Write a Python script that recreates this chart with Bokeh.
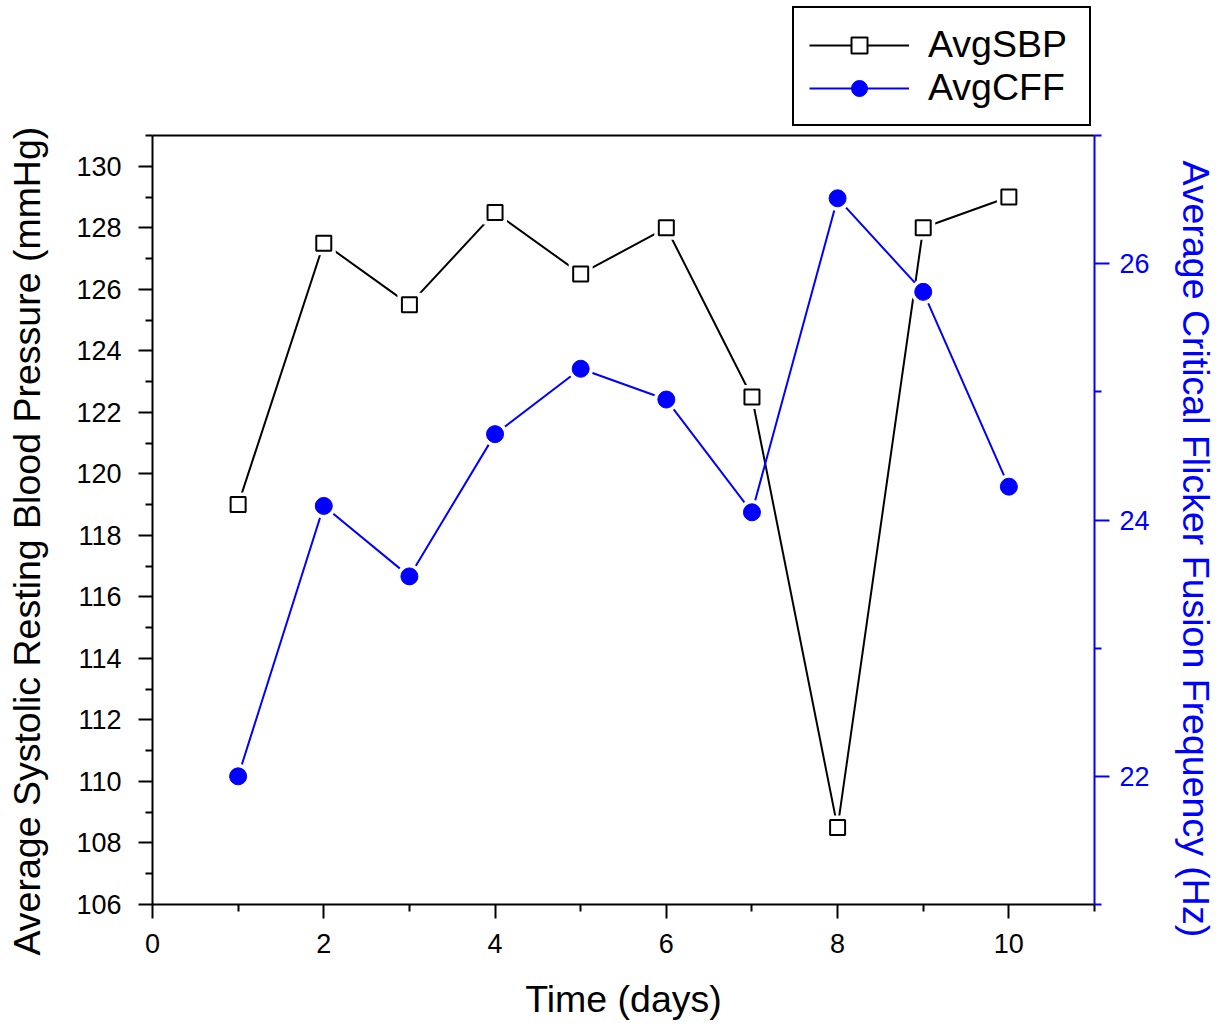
from bokeh.plotting import figure
from bokeh.models import (Range1d, LinearAxis, FixedTicker, Legend, LegendItem, Title)
from bokeh.layouts import column
from bokeh.embed import file_html
from bokeh.resources import INLINE

days = [1, 2, 3, 4, 5, 6, 7, 8, 9, 10]
avg_sbp = [119, 127.5, 125.5, 128.5, 126.5, 128, 122.5, 108.5, 128, 129]
avg_cff = [22.0, 24.11, 23.56, 24.67, 25.18, 24.94, 24.06, 26.51, 25.78, 24.26]

x_major = list(range(0, 11, 2))
x_minor = list(range(1, 12, 2))
yl_major = list(range(106, 131, 2))
yl_minor = list(range(107, 132, 2))
yr_major = [22, 24, 26]
yr_minor = [21, 23, 25, 27]

FONT = "Liberation Sans"
BLUE = "#0000FF"
W = 1226
TOP_H = 127
MAIN_H = 901

# ---------------- main plot ----------------
p = figure(width=W, height=MAIN_H, output_backend="svg", toolbar_location=None,
           x_range=Range1d(0, 11), y_range=Range1d(106, 131),
           min_border_left=152, min_border_right=132, min_border_top=8,
           min_border_bottom=124)
p.extra_y_ranges = {"cff": Range1d(21, 27)}
p.grid.visible = False
p.outline_line_color = None
p.background_fill_color = "white"

def style_axis(ax, color="black"):
    ax.axis_line_color = color
    ax.axis_line_width = 2
    ax.major_tick_line_color = color
    ax.minor_tick_line_color = color
    ax.major_tick_line_width = 2
    ax.minor_tick_line_width = 2
    ax.major_tick_in = 0
    ax.minor_tick_in = 0
    ax.major_tick_out = 14
    ax.minor_tick_out = 7
    ax.major_label_text_font = FONT
    ax.major_label_text_font_size = "27px"
    ax.major_label_text_color = color
    ax.axis_label_text_font = FONT
    ax.axis_label_text_font_size = "37.5px"
    ax.axis_label_text_font_style = "normal"
    ax.axis_label_text_color = color

xa = p.xaxis[0]
style_axis(xa)
xa.ticker = FixedTicker(ticks=x_major, minor_ticks=x_minor)
xa.axis_label = "Time (days)"
xa.major_label_standoff = 15
xa.axis_label_standoff = 22

ya = p.yaxis[0]
style_axis(ya)
ya.ticker = FixedTicker(ticks=yl_major, minor_ticks=yl_minor)
ya.major_label_standoff = 17
# blank spacer label: reserves room between tick labels and the side title
ya.axis_label = " "
ya.axis_label_text_font_size = "1px"
ya.axis_label_standoff = 22

ra = LinearAxis(y_range_name="cff")
style_axis(ra, BLUE)
ra.ticker = FixedTicker(ticks=yr_major, minor_ticks=yr_minor)
ra.major_tick_out = 15
ra.major_label_standoff = 10
ra.axis_label = " "
ra.axis_label_text_font_size = "1px"
ra.axis_label_standoff = 18
p.add_layout(ra, "right")

ta = LinearAxis(ticker=FixedTicker(ticks=[], minor_ticks=[]))
ta.axis_line_color = "black"
ta.axis_line_width = 2
ta.major_label_text_font_size = "0px"
ta.major_tick_line_color = None
ta.minor_tick_line_color = None
ta.major_label_standoff = 0
p.add_layout(ta, "above")

left_title = Title(text="Average Systolic Resting Blood Pressure (mmHg)", align="left",
                   vertical_align="bottom", offset=-51, standoff=0,
                   text_font=FONT, text_font_size="37.5px",
                   text_font_style="normal", text_color="black")
p.add_layout(left_title, "left")

right_title = Title(text="Average Critical Flicker Fusion Frequency (Hz)", align="left",
                    vertical_align="bottom", offset=25, standoff=0,
                    text_font=FONT, text_font_size="37.5px",
                    text_font_style="normal", text_color=BLUE)
p.add_layout(right_title, "right")

# SBP series
p.line(days, avg_sbp, line_color="black", line_width=2)
p.scatter(days, avg_sbp, marker="square", size=24, fill_color="white", line_color=None)
p.scatter(days, avg_sbp, marker="square", size=15, fill_color="white",
          line_color="black", line_width=2)

# CFF series
p.line(days, avg_cff, line_color=BLUE, line_width=2, y_range_name="cff")
p.scatter(days, avg_cff, marker="circle", size=25, fill_color="white", line_color=None,
          y_range_name="cff")
p.scatter(days, avg_cff, marker="circle", size=17, fill_color=BLUE, line_color=BLUE,
          y_range_name="cff")

# ---------------- legend strip ----------------
t = figure(width=W, height=TOP_H, output_backend="svg", toolbar_location=None,
           x_range=Range1d(1000, 1001), y_range=Range1d(1000, 1001),
           min_border=0, x_axis_location=None, y_axis_location=None)
t.grid.visible = False
t.outline_line_color = None
l1 = t.line(days, avg_sbp, line_color="black", line_width=2)
m1 = t.scatter(days, avg_sbp, marker="square", size=15, fill_color="white",
               line_color="black", line_width=2)
l2 = t.line(days, avg_cff, line_color=BLUE, line_width=2)
m2 = t.scatter(days, avg_cff, marker="circle", size=17, fill_color=BLUE, line_color=BLUE)

legend = Legend(items=[LegendItem(label="AvgSBP", renderers=[l1, m1]),
                       LegendItem(label="AvgCFF", renderers=[l2, m2])],
                location=(640, 1))
legend.margin = 0
legend.label_text_font = FONT
legend.label_text_font_size = "37.5px"
legend.label_text_color = "black"
legend.padding = 15
legend.spacing = 0
legend.glyph_width = 100
legend.glyph_height = 40
legend.label_height = 40
legend.label_width = 146
legend.label_standoff = 19
legend.border_line_color = "black"
legend.border_line_alpha = 1
legend.border_line_width = 2
legend.background_fill_color = "white"
legend.background_fill_alpha = 1
t.add_layout(legend, "center")

layout = column(t, p, spacing=0)
open("out.html", "w").write(file_html(layout, INLINE))
